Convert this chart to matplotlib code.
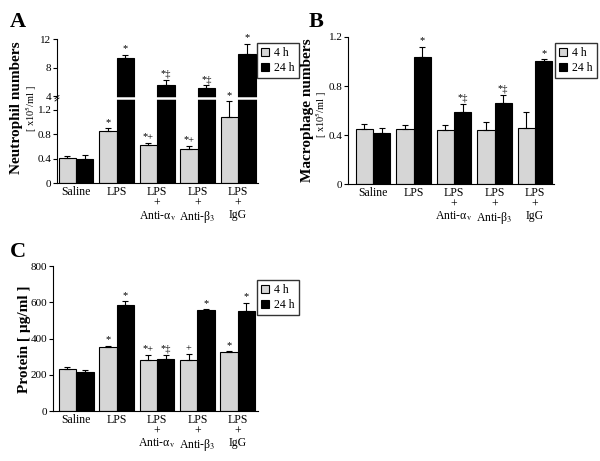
import matplotlib
matplotlib.use("Agg")
import matplotlib.pyplot as plt
import numpy as np
from matplotlib.patches import Patch
from matplotlib.lines import Line2D

plt.rcParams['font.family'] = ['Liberation Serif', 'DejaVu Serif']
plt.rcParams['mathtext.fontset'] = 'stix'

categories = ['Saline', 'LPS', 'LPS\n+\nAnti-\u03b1$_{\\mathrm{v}}$',
              'LPS\n+\nAnti-\u03b2$_{3}$', 'LPS\n+\nIgG']
series_names = ['4 h', '24 h']

A_4h = [0.41, 0.85, 0.62, 0.56, 1.08]
A_4h_err = [0.04, 0.05, 0.04, 0.05, 0.26]
A_24h = [0.39, 9.4, 5.5, 5.1, 9.9]
A_24h_err = [0.07, 0.4, 0.7, 0.38, 1.4]
A_4h_marks = ['', '*', '*+', '*+', '*']
A_24h_marks = ['', '*', '*\u2021', '*\u2021', '*']

B_4h = [0.45, 0.45, 0.44, 0.44, 0.46]
B_4h_err = [0.04, 0.035, 0.045, 0.065, 0.13]
B_24h = [0.42, 1.04, 0.59, 0.66, 1.0]
B_24h_err = [0.04, 0.08, 0.06, 0.07, 0.02]
B_4h_marks = ['', '', '', '', '']
B_24h_marks = ['', '*', '*\u2021', '*\u2021', '*']

C_4h = [233, 352, 284, 280, 325]
C_4h_err = [12, 9, 25, 32, 5]
C_24h = [217, 583, 289, 556, 552]
C_24h_err = [11, 23, 20, 5, 45]
C_4h_marks = ['', '*', '*+', '+', '*']
C_24h_marks = ['', '*', '*\u2021', '*', '*']

GRAY = '#d6d6d6'
W = 0.43
FS = 8.5
FSY = 8

fig = plt.figure(figsize=(6.0, 4.61), dpi=100)
W_px, H_px = 600.0, 461.0

def fx(px):
    return px / W_px

def fy(py):
    return 1 - py / H_px

def draw_bars(ax, v4, e4, v24, e24):
    x = np.arange(len(v4))
    ax.bar(x - W / 2, v4, W, color=GRAY, edgecolor='black', linewidth=0.8, zorder=2)
    ax.bar(x + W / 2, v24, W, color='black', edgecolor='black', linewidth=0.8, zorder=2)
    ax.errorbar(x - W / 2, v4, yerr=[np.zeros(len(v4)), e4], fmt='none',
                ecolor='black', elinewidth=0.8, capsize=2.2, capthick=0.8, zorder=3)
    ax.errorbar(x + W / 2, v24, yerr=[np.zeros(len(v24)), e24], fmt='none',
                ecolor='black', elinewidth=0.8, capsize=2.2, capthick=0.8, zorder=3)

def annotate(ax, xs, tops, marks, fsm=7.5):
    for xx, t, m in zip(xs, tops, marks):
        if m:
            ax.annotate(m, (xx, t), xytext=(0, 1.0), textcoords='offset points',
                        ha='center', va='bottom', fontsize=fsm, annotation_clip=False)

def style(ax, bottom=True):
    for s in ['top', 'right']:
        ax.spines[s].set_visible(False)
    ax.spines['left'].set_linewidth(0.8)
    ax.spines['bottom'].set_linewidth(0.8)
    ax.tick_params(axis='y', direction='out', length=3, width=0.8, pad=1, labelsize=FSY)
    ax.tick_params(axis='x', length=0, pad=2, labelsize=FS)
    if not bottom:
        ax.spines['bottom'].set_visible(False)
        ax.set_xticks([])

def legend(px, py):
    handles = [Patch(facecolor=GRAY, edgecolor='black', linewidth=0.8),
               Patch(facecolor='black', edgecolor='black', linewidth=0.8)]
    fig.legend(handles, series_names, loc='upper left',
               bbox_to_anchor=(fx(px), fy(py)), bbox_transform=fig.transFigure,
               fontsize=FS, frameon=True, fancybox=False, edgecolor='black',
               handlelength=0.7, handleheight=0.7, handletextpad=0.4,
               borderpad=0.35, labelspacing=0.25, borderaxespad=0)

x = np.arange(5)

# ---------------- Panel A (broken axis) ----------------
brk = 98.3
axA_lo = fig.add_axes([fx(57), fy(183.3), fx(258) - fx(57), (183.3 - brk) / H_px])
axA_hi = fig.add_axes([fx(57), fy(brk), fx(258) - fx(57), (brk - 39) / H_px])
for ax in (axA_lo, axA_hi):
    draw_bars(ax, A_4h, A_4h_err, A_24h, A_24h_err)
    ax.set_xlim(-0.47, 4.49)
    ax.patch.set_alpha(0)
axA_lo.set_ylim(0, 1.39)
axA_lo.set_yticks([0, 0.4, 0.8, 1.2])
axA_lo.set_yticklabels(['0', '0.4', '0.8', '1.2'])
axA_hi.set_ylim(3.68, 12)
axA_hi.set_yticks([4, 8, 12])
axA_hi.set_yticklabels(['4', '8', '12'])
style(axA_lo)
style(axA_hi, bottom=False)
axA_lo.set_xticks(x)
axA_lo.set_xticklabels(categories, linespacing=0.95)
annotate(axA_lo, x - W / 2, np.array(A_4h) + np.array(A_4h_err), A_4h_marks)
annotate(axA_hi, x + W / 2, np.array(A_24h) + np.array(A_24h_err), A_24h_marks)
fig.add_artist(Line2D([fx(58.5), fx(258)], [fy(brk), fy(brk)], color='white',
                      linewidth=1.8, transform=fig.transFigure, zorder=10))
for dy in (-1.2, 1.2):
    fig.add_artist(Line2D([fx(55), fx(59)], [fy(brk + dy + 1.5), fy(brk + dy - 1.5)],
                          color='black', linewidth=0.6, transform=fig.transFigure, zorder=11))
legend(257, 43)
fig.text(fx(16.5), fy(108), 'Neutrophil numbers', rotation=90, ha='center', va='center',
         fontsize=11, fontweight='bold')
fig.text(fx(31), fy(109), '[ x10$^{5}$/ml ]', rotation=90, ha='center', va='center',
         fontsize=7.5)
fig.text(fx(10), fy(12), 'A', fontsize=16, fontweight='bold', ha='left', va='top')

# ---------------- Panel B ----------------
axB = fig.add_axes([fx(348), fy(184), fx(554) - fx(348), (184 - 37) / H_px])
draw_bars(axB, B_4h, B_4h_err, B_24h, B_24h_err)
axB.set_xlim(-0.62, 4.47)
axB.set_ylim(0, 1.2)
axB.set_yticks([0, 0.4, 0.8, 1.2])
axB.set_yticklabels(['0', '0.4', '0.8', '1.2'])
style(axB)
axB.set_xticks(x)
axB.set_xticklabels(categories, linespacing=0.95)
annotate(axB, x + W / 2, np.array(B_24h) + np.array(B_24h_err), B_24h_marks)
legend(555, 43)
fig.text(fx(308), fy(110), 'Macrophage numbers', rotation=90, ha='center', va='center',
         fontsize=11, fontweight='bold')
fig.text(fx(321), fy(115), '[ x10$^{5}$/ml ]', rotation=90, ha='center', va='center',
         fontsize=7.5)
fig.text(fx(309), fy(12), 'B', fontsize=16, fontweight='bold', ha='left', va='top')

# ---------------- Panel C ----------------
axC = fig.add_axes([fx(52.7), fy(411), fx(258) - fx(52.7), (411 - 266) / H_px])
draw_bars(axC, C_4h, C_4h_err, C_24h, C_24h_err)
axC.set_xlim(-0.58, 4.5)
axC.set_ylim(0, 800)
axC.set_yticks([0, 200, 400, 600, 800])
style(axC)
axC.set_xticks(x)
axC.set_xticklabels(categories, linespacing=0.95)
annotate(axC, x - W / 2, np.array(C_4h) + np.array(C_4h_err), C_4h_marks)
annotate(axC, x + W / 2, np.array(C_24h) + np.array(C_24h_err), C_24h_marks)
legend(257, 280)
fig.text(fx(25), fy(339.5), 'Protein [ \u00b5g/ml ]', rotation=90, ha='center', va='center',
         fontsize=11, fontweight='bold')
fig.text(fx(10), fy(242), 'C', fontsize=16, fontweight='bold', ha='left', va='top')

fig.savefig('out.png', dpi=100)
